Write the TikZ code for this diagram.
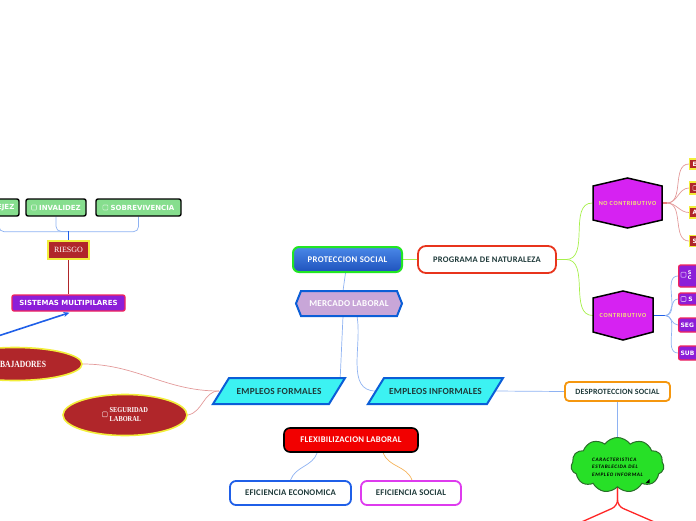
\documentclass[tikz,border=0pt]{standalone}
\usepackage{fontspec}
\setmainfont{Carlito}
\newfontfamily\dvs{DejaVu Sans}
\newfontfamily\lser{Liberation Serif}
\usetikzlibrary{shapes.geometric,shapes.symbols,calc,arrows.meta}
\definecolor{gfill}{HTML}{86DE8E}
\definecolor{cblue}{HTML}{8EB2F2}
\definecolor{dblue}{HTML}{1F5FE8}
\definecolor{lred}{HTML}{E39A9A}
\definecolor{lgreen}{HTML}{A6F04A}
\definecolor{orng}{HTML}{F5B35A}
\definecolor{txt}{HTML}{1F3A3A}
\definecolor{red1}{HTML}{B0262A}
\definecolor{yel}{HTML}{F2EE3A}
\definecolor{purp}{HTML}{8C1ED8}
\definecolor{pinkr}{HTML}{F0245C}
\definecolor{cyanf}{HTML}{3CF2F2}
\definecolor{bord}{HTML}{0B5ED7}
\definecolor{merc}{HTML}{C8A6D8}
\definecolor{mag}{HTML}{D622F2}
\definecolor{hexyel}{HTML}{F2E47A}
\definecolor{dorange}{HTML}{F5970F}
\definecolor{cgreen}{HTML}{27E027}
\definecolor{cgreenb}{HTML}{2A6E2A}
\definecolor{flexred}{HTML}{F20000}
\definecolor{efmag}{HTML}{DE3BEE}
\definecolor{ptop}{HTML}{4A88E8}
\definecolor{pbot}{HTML}{1E52BC}
\definecolor{pgreen}{HTML}{22E622}
\definecolor{progred}{HTML}{E8341C}
\newcommand{\cf}[2]{\fontsize{#1}{#1}\selectfont\addfontfeatures{LetterSpace=#2}}
\newcommand{\chkbox}[1][white]{\tikz[baseline=0pt]\draw[draw=#1,draw opacity=.6,line width=.6pt,rounded corners=.8pt] (0,0) rectangle (5pt,5pt);}
\pgfdeclarelayer{bg}
\pgfsetlayers{bg,main}
\begin{document}
\begin{tikzpicture}[x=1pt,y=-1pt,
  conn/.style={line width=0.7pt},
  gbox/.style={draw=black,line width=1.4pt,fill=gfill,rounded corners=2pt,font=\dvs\bfseries\fontsize{7}{7}\selectfont,text=white,inner sep=0pt,minimum height=17},
  pbox/.style={draw=pinkr,line width=1.3pt,fill=purp,rounded corners=2pt,font=\dvs\bfseries\fontsize{7}{7}\selectfont,text=white,inner sep=0pt},
  rbox/.style={draw=yel,line width=1.2pt,fill=red1,font=\dvs\bfseries\fontsize{6}{6}\selectfont,text=white,inner sep=0pt},
  ell/.style={ellipse,draw=yel,line width=1.6pt,fill=red1,text=white,inner sep=0pt},
  plain/.style={inner sep=0pt,text=txt,font=\bfseries\cf{9}{3}},
  wbox/.style={draw,fill=white,line width=1.8pt,rounded corners=6pt,inner sep=0pt,text=txt,font=\bfseries\cf{9}{3}},
  para/.style={draw=bord,line width=2pt,fill=cyanf,line join=miter},
  hexs/.style={draw=black,line width=1.5pt,fill=mag}
]
\useasboundingbox (0,0) rectangle (696,520);
\clip (0,0) rectangle (696,520);

% ---- left top boxes
\node[gbox,minimum width=40] (vej) at (-1,207.5) {\chkbox\ VEJEZ};
\node[gbox,minimum width=60] (inv) at (56,207.5) {\chkbox\ INVALIDEZ};
\node[gbox,minimum width=85] (sob) at (138.5,207.5) {\chkbox\ SOBREVIVENCIA};
\node[draw=yel,line width=1.2pt,fill=red1,text=white,font=\lser\fontsize{8}{8}\selectfont,minimum width=41,minimum height=18,inner sep=0pt] (ries) at (68.5,250) {RIESGO};
\node[pbox,minimum width=113,minimum height=16] (sm) at (68.5,303) {SISTEMAS MULTIPILARES};
\coordinate (ba) at (-5,337);

% ---- ellipses
\node[ell,minimum width=134,minimum height=33,font=\lser\bfseries\fontsize{9.5}{9.5}\selectfont] (trab) at (15,364) {\scalebox{0.8}[1]{TRABAJADORES}};
\node[ell,minimum width=124,minimum height=41,font=\lser\bfseries\fontsize{7.5}{9}\selectfont] (seg) at (125,415) {\chkbox\hspace{2pt}\scalebox{0.85}[1]{\begin{tabular}[c]{@{}l@{}}SEGURIDAD\\LABORAL\end{tabular}}};

% ---- parallelograms
\draw[para] (213,404) -- (229,378) -- (345,378) -- (329,404) -- cycle;
\node[plain,minimum width=132,minimum height=26,font=\bfseries\cf{9.3}{3}] (ef) at (279,391) {EMPLEOS FORMALES};
\draw[para] (368,404) -- (384,378) -- (503,378) -- (487,404) -- cycle;
\node[plain,minimum width=135,minimum height=26,font=\bfseries\cf{9.3}{2}] (ei) at (435.5,391) {EMPLEOS INFORMALES};

% ---- mercado laboral
\draw[draw=bord,line width=2pt,fill=merc] (296,303.5) -- (301,291) -- (397,291) -- (402,303.5) -- (397,316) -- (301,316) -- cycle;
\node[plain,text=white,minimum width=106,minimum height=25] (mer) at (349,303.5) {MERCADO LABORAL};

% ---- proteccion social
\node[draw=pgreen,line width=2pt,rounded corners=6pt,top color=ptop,bottom color=pbot,text=white,font=\bfseries\cf{8.7}{4},minimum width=109,minimum height=25,inner sep=0pt] (prot) at (347.5,259.5) {PROTECCION SOCIAL};
\node[wbox,draw=progred,minimum width=138,minimum height=27,rounded corners=8pt,font=\bfseries\cf{8.5}{3}] (prog) at (487,259.5) {PROGRAMA DE NATURALEZA};

% ---- hexagons
\draw[hexs] (627.5,178) -- (662,186) -- (662,220) -- (627.5,228) -- (593,220) -- (593,186) -- cycle;
\node[inner sep=0pt,minimum width=70,minimum height=50,text=hexyel,font=\bfseries\cf{6.2}{10}] (nc) at (627.5,203) {NO CONTRIBUTIVO};
\draw[hexs] (623,291) -- (653,298) -- (653,332) -- (623,340) -- (593,332) -- (593,298) -- cycle;
\node[inner sep=0pt,minimum width=60,minimum height=49,text=hexyel,font=\bfseries\cf{6.2}{10}] (co) at (623,315.5) {CONTRIBUTIVO};

% ---- right small boxes
\node[rbox,anchor=west,minimum width=40,minimum height=10,text width=34,align=left] (nc1) at (689,164) {E};
\node[rbox,anchor=west,minimum width=40,minimum height=12,text width=34,align=left] (nc2) at (689,188) {\chkbox[white]};
\node[rbox,anchor=west,minimum width=40,minimum height=11,text width=34,align=left] (nc3) at (689,212.5) {A};
\node[rbox,anchor=west,minimum width=40,minimum height=11,text width=34,align=left] (nc4) at (689,241) {S};
\node[pbox,anchor=west,minimum width=40,minimum height=22,text width=36,align=left,font=\dvs\bfseries\fontsize{5}{5.5}\selectfont] (c1) at (678,276) {\chkbox\ \begin{tabular}[c]{@{}l@{}}S\\C\end{tabular}};
\node[pbox,anchor=west,minimum width=40,minimum height=12,text width=36,align=left,font=\dvs\bfseries\fontsize{6}{6}\selectfont] (c2) at (678,299) {\chkbox\ S};
\node[pbox,anchor=west,minimum width=40,minimum height=14,text width=36,align=left,font=\dvs\bfseries\fontsize{6}{6}\selectfont] (c3) at (678,325) {SEG};
\node[pbox,anchor=west,minimum width=40,minimum height=14,text width=36,align=left,font=\dvs\bfseries\fontsize{6}{6}\selectfont] (c4) at (678,353) {SUB};

% ---- desproteccion & cloud
\node[wbox,draw=dorange,minimum width=105,minimum height=19,rounded corners=4pt,font=\bfseries\cf{8}{2}] (dp) at (617.5,391.5) {DESPROTECCION SOCIAL};
\node[cloud,cloud puffs=11,cloud puff arc=110,aspect=1.7,draw=cgreenb,line width=1pt,fill=cgreen,minimum width=93,minimum height=55,inner sep=0pt] (cl) at (617.5,465) {};
\node[inner sep=0pt,anchor=north west,align=left,font=\bfseries\itshape\cf{5.2}{12},text=black] (clt) at (592,457.5) {CARACTERISTICA\\[2.5pt]ESTABLECIDA DEL\\[2.5pt]EMPLEO INFORMAL};
\fill[black] (645.5,483) -- (649.5,479) -- (649.5,483) -- cycle;
\coordinate (rb) at (617.5,506);
\coordinate (rl) at (577,524);
\coordinate (rr) at (659,524);

% ---- flexibilizacion
\node[draw=black,line width=1.6pt,fill=flexred,rounded corners=6pt,text=white,font=\bfseries\cf{8.7}{3},minimum width=134,minimum height=24,inner sep=0pt] (flex) at (351,440) {FLEXIBILIZACION LABORAL};
\node[wbox,draw=dblue,minimum width=121,minimum height=24,font=\bfseries\cf{8.7}{2}] (efe) at (290.5,493) {EFICIENCIA ECONOMICA};
\node[wbox,draw=efmag,minimum width=100,minimum height=24,font=\bfseries\cf{8.7}{2}] (efs) at (411,493) {EFICIENCIA SOCIAL};

% ---- connectors
\begin{pgfonlayer}{bg}
\draw[conn,cblue,rounded corners=5pt] (vej.south) -- ++(0,15) -| (sob.south);
\draw[conn,cblue,rounded corners=5pt] (inv.south) |- ($(ries.north)+(0,-9)$);
\draw[conn,dblue] ($(ries.north)+(0,-9)$) -- (ries.north);
\draw[conn,red1] (ries.south) -- (sm.north);
\draw[line width=1.6pt,dblue,-{Stealth[length=6pt,width=5pt]}] (ba) -- ($(sm.south)+(1,1)$);
\draw[conn,lred] (trab.east) to[out=0,in=180] ($(ef.west)+(6,0)$);
\draw[conn,lred] (seg.east) to[out=10,in=180] ($(ef.west)+(6,0)$);
\draw[conn,cblue] ($(prot.south)+(-2,0)$) -- ($(mer.north)+(-6,0)$);
\draw[conn,cblue] ($(mer.south)+(-6,0)$) -- ($(ef.north east)+(-5,0)$);
\draw[conn,cblue] ($(mer.south)+(8,0)$) to[out=-80,in=180] ($(ei.west)+(8,0)$);
\draw[conn,cblue] ($(ei.east)+(-8,0)$) -- (dp.west);
\draw[conn,cblue] (dp.south) -- (cl.north);
\draw[line width=1.3pt,red!85!white,rounded corners=6pt] (cl.south) -- (rb) -- (rl);
\draw[line width=1.3pt,red!85!white,rounded corners=6pt] (cl.south) -- (rb) -- (rr);
\draw[conn,lgreen] (prot.east) -- (prog.west);
\coordinate (pj) at (566,259.5);
\draw[conn,lgreen] (prog.east) -- (pj);
\draw[conn,lgreen] (pj) to[out=0,in=180] (nc.west);
\draw[conn,lgreen] (pj) to[out=0,in=180] (co.west);
\coordinate (ncj) at (667,203);
\draw[line width=1.3pt,lred!80!red] (nc.east) -- (ncj);
\foreach \b in {nc1,nc2,nc3,nc4} \draw[conn,lred] (ncj) to[out=0,in=180] (\b.west);
\coordinate (coj) at (665,315.5);
\draw[line width=1.3pt,dblue] (co.east) -- (coj);
\foreach \b in {c1,c2,c3,c4} \draw[conn,cblue] (coj) to[out=0,in=180] (\b.west);
\draw[conn,cblue] ($(flex.south west)+(34,0)$) to[out=-110,in=70] (efe.north);
\draw[conn,orng] ($(flex.south west)+(100,0)$) to[out=-70,in=110] ($(efs.north)+(1,0)$);
\end{pgfonlayer}
\end{tikzpicture}
\end{document}
